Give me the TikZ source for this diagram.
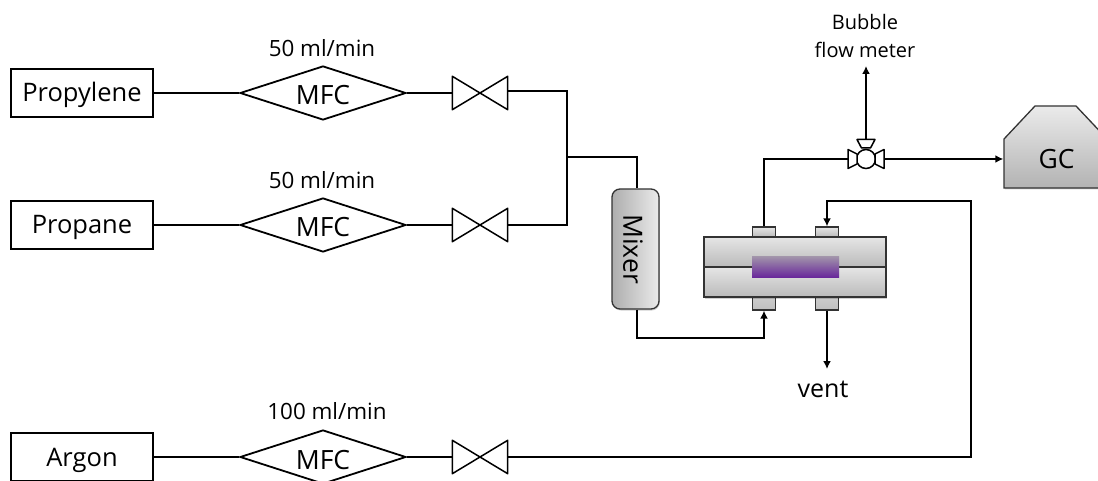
\documentclass[tikz,border=0pt]{standalone}
\usepackage{fontspec}
\setmainfont{Open Sans}
\usetikzlibrary{shapes.geometric,arrows.meta,positioning,calc,shadows}
\definecolor{cattop}{RGB}{160,145,170}
\definecolor{catbot}{RGB}{105,40,155}
\tikzset{
  x=1pt,y=-1pt,
  pipe/.style={draw=black,line width=1.8pt,line join=miter},
  thickpipe/.style={draw=black,line width=2.3pt},
  flow/.style={pipe,-{Latex[length=8pt,width=8pt]}},
  bigtext/.style={font=\fontsize{25.5}{28}\selectfont},
  gasbox/.style={draw=black,line width=1.4pt,fill=white,minimum width=142pt,minimum height=48pt,inner sep=0,bigtext,text height=18pt,text depth=0pt},
  mfcnode/.style={diamond,draw=black,line width=1.8pt,fill=white,minimum width=166pt,minimum height=54pt,shape aspect=3.07,inner sep=0,font=\fontsize{26.5}{28}\selectfont,text height=24pt,text depth=0pt},
  valvenode/.style={inner sep=0,minimum width=55pt,minimum height=33pt},
  valvebody/.style={draw=black,line width=1.5pt,line join=round,fill=white},
  flowlabel/.style={font=\fontsize{22.4}{24}\selectfont,inner sep=0},
  softshadow/.style={drop shadow={shadow xshift=0.8pt,shadow yshift=-1.5pt,fill=black,opacity=.18}},
  metal/.style={draw=black!80,line width=1.3pt,top color=black!10,bottom color=black!27},
  portbox/.style={metal,inner sep=0,minimum width=23pt},
}
\begin{document}
\begin{tikzpicture}
\clip (0,0) rectangle (1098,481);
% gas boxes
\node[gasbox] (prop) at (82,93) {Propylene};
\node[gasbox] (propa) at (82,225) {Propane};
\node[gasbox] (argon) at (82,457) {Argon};
% MFCs
\node[mfcnode] (m1) at (323,93) {MFC};
\node[mfcnode] (m2) at (323,225) {MFC};
\node[mfcnode] (m3) at (323,457) {MFC};
% valves
\node[valvenode] (v1) at (480,93) {};
\node[valvenode] (v2) at (480,225) {};
\node[valvenode] (v3) at (480,457) {};
\foreach \v in {v1,v2,v3}
  \draw[valvebody] (\v.north west) -- (\v.south east) -- (\v.north east) -- (\v.south west) -- cycle;
% labels
\node[flowlabel] (l1) at (322,48) {50 ml/min};
\node[flowlabel] (l2) at (322,180) {50 ml/min};
\node[flowlabel] (l3) at (327,411) {100 ml/min};
% mixer
\node[draw=black!80,line width=1.3pt,left color=black!32,right color=black!8,rounded corners=8pt,minimum width=47pt,minimum height=120pt,inner sep=0,softshadow] (mix) at (635.5,249) {};
\node[rotate=-90,inner sep=0,font=\fontsize{26.5}{28}\selectfont] (mixt) at (633,249) {Mixer};
% reactor
\node[metal,inner sep=0,minimum width=23pt,minimum height=10pt] (pa) at (764,232) {};
\node[portbox,minimum height=10pt] (pb) at (827,232) {};
\node[portbox,minimum height=13pt,top color=black!20,bottom color=black!25] (pc) at (764,303.5) {};
\node[portbox,minimum height=13pt,top color=black!20,bottom color=black!25] (pd) at (827,303.5) {};
\node[metal,inner sep=0,minimum width=182pt,minimum height=30pt,softshadow] (rb) at (795,282) {};
\node[metal,inner sep=0,minimum width=182pt,minimum height=30pt] (rt) at (795,252) {};
\node[inner sep=0,minimum width=87pt,minimum height=20pt,top color=cattop,bottom color=catbot] (cat) at (795.5,267) {};
% three-way valve
\node[circle,draw=black,line width=1.5pt,fill=white,minimum size=19pt,inner sep=0] (tw) at (866,159) {};
\draw[valvebody] (857,154) -- (848,149.5) -- (848,168.5) -- (857,164) -- cycle;
\draw[valvebody] (875,154) -- (884,149.5) -- (884,168.5) -- (875,164) -- cycle;
\draw[valvebody] (861.5,148) -- (857,139.5) -- (875,139.5) -- (870.5,148) -- cycle;
\coordinate (twl) at (848,159);
\coordinate (twr) at (884,159);
\coordinate (twt) at (866,139.5);
% GC
\node[inner sep=0,minimum width=1pt,minimum height=1pt] (gcport) at (1004,159) {};
\draw[draw=black!80,line width=1.3pt,top color=black!8,bottom color=black!30,drop shadow={shadow xshift=0.8pt,shadow yshift=-1.5pt,fill=black,opacity=.18}] (1004,139) -- (1035,106) -- (1076,106) -- (1109,141) -- (1109,188) -- (1004,188) -- cycle;
\node[inner sep=0,font=\fontsize{26.5}{28}\selectfont] (gc) at (1056.5,159) {GC};
% texts
\node[inner sep=0,font=\fontsize{20}{28}\selectfont,align=center] (bub) at (865,36) {Bubble\\flow meter};
\node[inner sep=0,font=\fontsize{25}{28}\selectfont] (vent) at (823,389) {vent};
\coordinate (bubend) at (866,66);
\coordinate (ventend) at (827,369);
% pipes
\draw[thickpipe] (prop.east) -- (m1.west);
\draw[thickpipe] (propa.east) -- (m2.west);
\draw[thickpipe] (argon.east) -- (m3.west);
\draw[thickpipe] (m1.east) -- (v1.west);
\draw[thickpipe] (m2.east) -- (v2.west);
\draw[thickpipe] (m3.east) -- (v3.west);
\coordinate (j) at (567,157);
\draw[pipe] (v1.east) ++(0,-2) -| (j);
\draw[pipe] (v2.east) -| (j);
\draw[pipe] (j) -| ($(mix.north)+(1.5,0)$);
\draw[flow] ($(mix.south)+(1.5,0)$) |- ($(pc.south)+(0,27)$) -- (pc.south);
\draw[pipe] (pa.north) |- (twl);
\draw[flow] (twr) -- (gcport);
\draw[flow] (twt) -- (bubend);
\draw[flow] (pd.south) -- (ventend);
\coordinate (ar) at (971,201);
\draw[flow] (v3.east) -| (ar) -| (pb.north);
\end{tikzpicture}
\end{document}
